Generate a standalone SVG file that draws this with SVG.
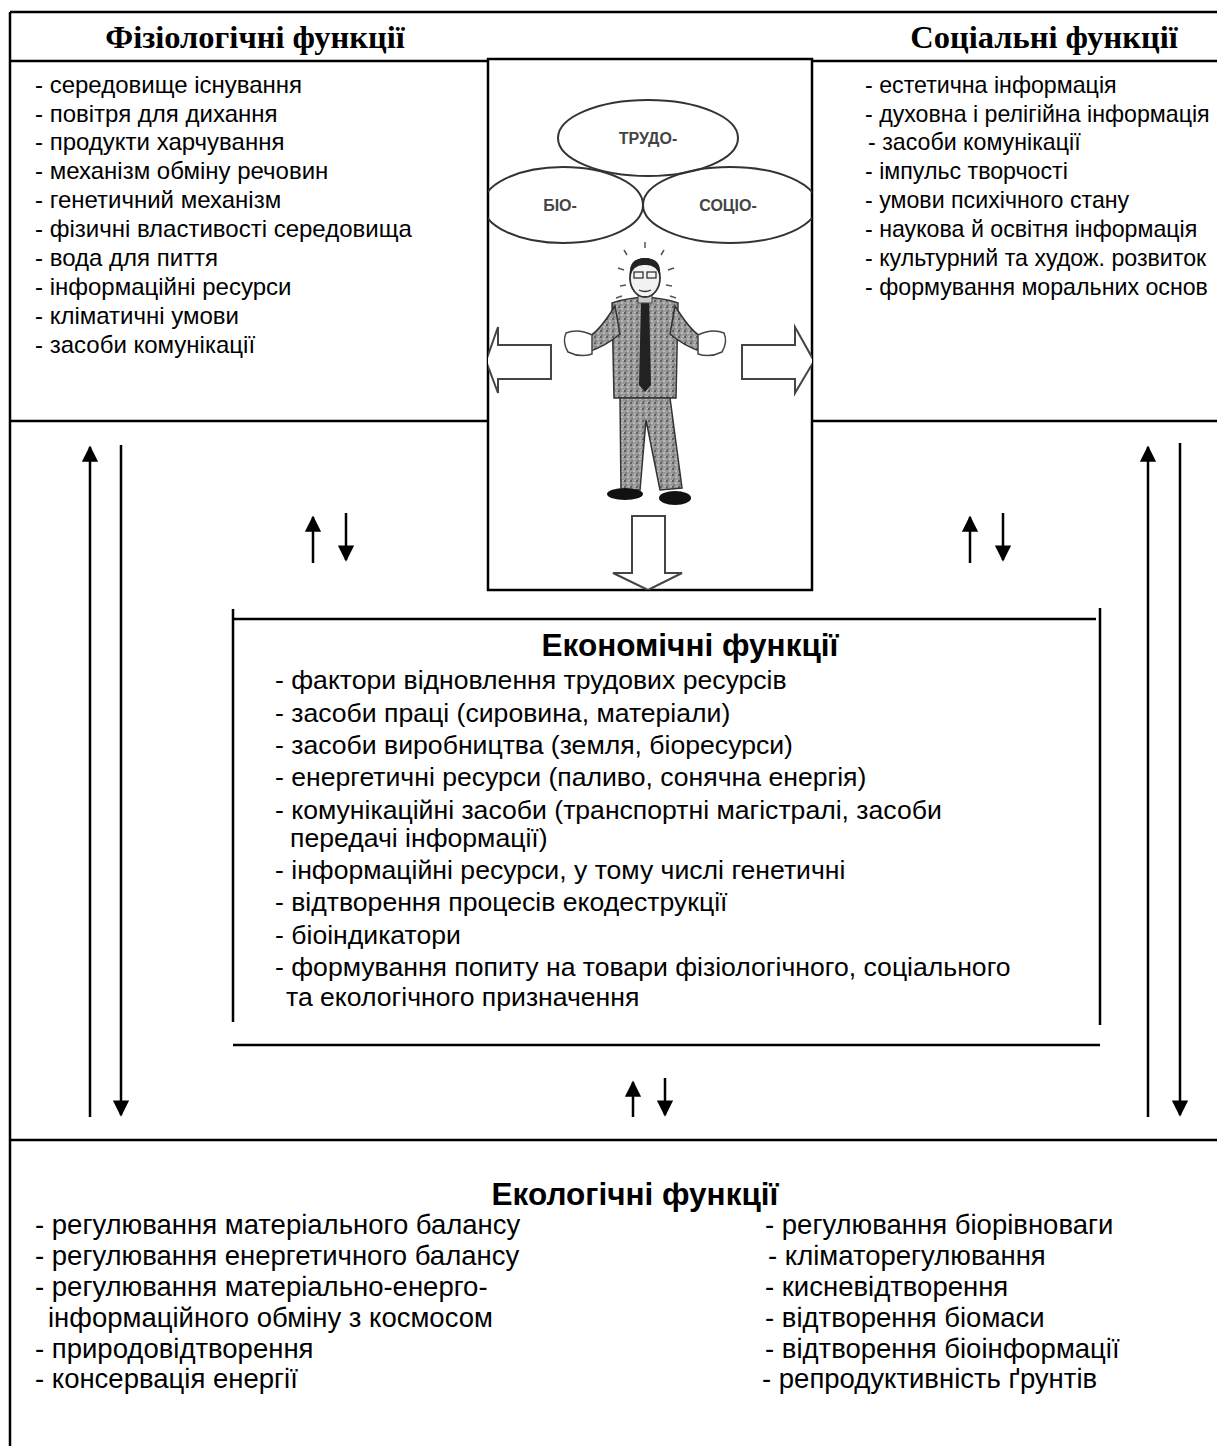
<svg xmlns="http://www.w3.org/2000/svg" width="1217" height="1446" viewBox="0 0 1217 1446">
<style>
.ln{stroke:#000;stroke-width:2.5;fill:none}
.hd{font-family:"Liberation Serif","Times New Roman",serif;font-weight:bold;font-size:32.5px;fill:#000}
.t1{font-family:"Liberation Sans",Arial,sans-serif;font-size:24px;fill:#000}
.t1s{font-family:"Liberation Sans",Arial,sans-serif;font-size:23.2px;fill:#000}
.t2{font-family:"Liberation Sans",Arial,sans-serif;font-size:26.6px;fill:#000}
.t3{font-family:"Liberation Sans",Arial,sans-serif;font-size:27.5px;fill:#000}
.tt{font-family:"Liberation Sans",Arial,sans-serif;font-size:31.5px;font-weight:bold;fill:#000}
.ar{stroke:#000;stroke-width:2.5;fill:none}
.pic{stroke:#333;stroke-width:2;fill:none}
.lab{font-family:"Liberation Sans",Arial,sans-serif;font-size:16px;font-weight:bold;fill:#444}
</style>
<defs>
<marker id="ah" viewBox="0 0 10 10" refX="9" refY="5" markerWidth="6.5" markerHeight="6.5" markerUnits="strokeWidth" orient="auto">
<path d="M0,0 L10,5 L0,10 z" fill="#000"/>
</marker>
<pattern id="suit" width="6" height="6" patternUnits="userSpaceOnUse">
<rect width="6" height="6" fill="#9a9a9a"/>
<circle cx="1" cy="1" r="0.9" fill="#444"/>
<circle cx="4" cy="3" r="0.8" fill="#e0e0e0"/>
<circle cx="2" cy="5" r="0.7" fill="#555"/>
<circle cx="5" cy="0.5" r="0.6" fill="#ddd"/>
</pattern>
<clipPath id="picclip"><rect x="488" y="59" width="324" height="531"/></clipPath>
</defs>
<rect width="1217" height="1446" fill="#fff"/>

<g id="frame">
<path class="ln" d="M10,12 H1217 M10,12 V1446 M10,61 H488 M812,61 H1217 M10,421 H488 M812,421 H1217 M10,1140 H1217"/>
</g>

<g id="physiological">
<text class="hd" x="255" y="48" text-anchor="middle">Фізіологічні функції</text>
<text class="t1" x="35" y="93">- середовище існування</text>
<text class="t1" x="35" y="122">- повітря для дихання</text>
<text class="t1" x="35" y="150">- продукти харчування</text>
<text class="t1" x="35" y="179">- механізм обміну речовин</text>
<text class="t1" x="35" y="208">- генетичний механізм</text>
<text class="t1" x="35" y="237">- фізичні властивості середовища</text>
<text class="t1" x="35" y="266">- вода для пиття</text>
<text class="t1" x="35" y="295">- інформаційні ресурси</text>
<text class="t1" x="35" y="324">- кліматичні умови</text>
<text class="t1" x="35" y="353">- засоби комунікації</text>
</g>

<g id="social">
<text class="hd" x="1044" y="48" text-anchor="middle">Соціальні функції</text>
<text class="t1s" x="865" y="93">- естетична інформація</text>
<text class="t1s" x="865" y="122">- духовна і релігійна інформація</text>
<text class="t1s" x="868" y="150">- засоби комунікації</text>
<text class="t1s" x="865" y="179">- імпульс творчості</text>
<text class="t1s" x="865" y="208">- умови психічного стану</text>
<text class="t1s" x="865" y="237">- наукова й освітня інформація</text>
<text class="t1s" x="865" y="266">- культурний та худож. розвиток</text>
<text class="t1s" x="865" y="295">- формування моральних основ</text>
</g>

<g id="picture">
<rect x="488" y="59" width="324" height="531" fill="#fff" stroke="#000" stroke-width="2.5"/>
<g clip-path="url(#picclip)">
<ellipse cx="648" cy="138" rx="90" ry="38" class="pic"/>
<ellipse cx="563" cy="205" rx="80" ry="38" class="pic"/>
<ellipse cx="730" cy="205" rx="87" ry="38" class="pic"/>
<text class="lab" x="648" y="144" text-anchor="middle">ТРУДО-</text>
<text class="lab" x="560" y="211" text-anchor="middle">БІО-</text>
<text class="lab" x="728" y="211" text-anchor="middle">СОЦІО-</text>
<g stroke="#555" stroke-width="1.5">
<path d="M624,250 L627,255 M645,242 V248 M664,250 L661,255 M618,268 L624,270 M668,270 L674,268 M620,286 L626,285 M666,285 L672,286 M616,298 L622,296 M670,296 L676,298"/>
</g>
<path d="M612,303 Q645,292 678,303 L676,398 L614,398 Z" fill="url(#suit)" stroke="#333" stroke-width="1.5"/>
<path d="M615,306 Q600,330 590,336 L588,352 Q606,346 620,334 Z" fill="url(#suit)" stroke="#333" stroke-width="1.5"/>
<path d="M675,306 Q690,330 700,336 L702,352 Q684,346 670,334 Z" fill="url(#suit)" stroke="#333" stroke-width="1.5"/>
<path d="M566,333 Q578,328 592,335 L592,354 Q580,358 568,352 Q562,342 566,333 Z" fill="#fff" stroke="#444" stroke-width="1.5"/>
<path d="M698,335 Q712,328 724,333 Q728,342 722,352 Q710,358 698,354 Z" fill="#fff" stroke="#444" stroke-width="1.5"/>
<path d="M641,300 L649,300 L651,385 L645,392 L639,385 Z" fill="#222"/>
<path d="M620,398 L670,398 L682,488 L660,490 L646,420 L640,490 L621,490 Z" fill="url(#suit)" stroke="#333" stroke-width="1.5"/>
<ellipse cx="625" cy="494" rx="18" ry="6" fill="#111"/>
<ellipse cx="675" cy="498" rx="16" ry="7" fill="#111"/>
<rect x="638" y="293" width="14" height="10" fill="#ccc" stroke="#444"/>
<ellipse cx="645" cy="278" rx="15" ry="19" fill="#f2f2f2" stroke="#333" stroke-width="1.8"/>
<path d="M630,276 Q628,258 645,258 Q662,258 660,276 Q656,264 645,265 Q634,264 630,276 Z" fill="#222"/>
<rect x="634" y="272" width="9" height="6" fill="none" stroke="#333" stroke-width="1.3"/>
<rect x="647" y="272" width="9" height="6" fill="none" stroke="#333" stroke-width="1.3"/>
<path d="M639,290 Q645,293 651,290" stroke="#333" stroke-width="1.3" fill="none"/>
<path d="M551,345 L551,379 L498,379 L498,393 L486,361 L498,327 L498,345 Z" fill="#fff" stroke="#444" stroke-width="2"/>
<path d="M742,345 L742,379 L795,379 L795,393 L814,361 L795,327 L795,345 Z" fill="#fff" stroke="#444" stroke-width="2"/>
<path d="M632,516 L665,516 L665,573 L682,573 L648,590 L613,573 L632,573 Z" fill="#fff" stroke="#444" stroke-width="2"/>
</g>
</g>

<g id="economic">
<path class="ln" d="M233,619 H1096 M233,609 V1022 M1100,608 V1025 M233,1045 H1100"/>
<text class="tt" x="690" y="656" text-anchor="middle">Економічні функції</text>
<text class="t2" x="275" y="689">- фактори відновлення трудових ресурсів</text>
<text class="t2" x="275" y="722">- засоби праці (сировина, матеріали)</text>
<text class="t2" x="275" y="754">- засоби виробництва (земля, біоресурси)</text>
<text class="t2" x="275" y="786">- енергетичні ресурси (паливо, сонячна енергія)</text>
<text class="t2" x="275" y="819">- комунікаційні засоби (транспортні магістралі, засоби</text>
<text class="t2" x="290" y="847">передачі інформації)</text>
<text class="t2" x="275" y="879">- інформаційні ресурси, у тому числі генетичні</text>
<text class="t2" x="275" y="911">- відтворення процесів екодеструкції</text>
<text class="t2" x="275" y="944">- біоіндикатори</text>
<text class="t2" x="275" y="976">- формування попиту на товари фізіологічного, соціального</text>
<text class="t2" x="286" y="1006">та екологічного призначення</text>
</g>

<g id="ecological">
<text class="tt" x="635" y="1205" text-anchor="middle">Екологічні функції</text>
<text class="t3" x="35" y="1234">- регулювання матеріального балансу</text>
<text class="t3" x="35" y="1265">- регулювання енергетичного балансу</text>
<text class="t3" x="35" y="1296">- регулювання матеріально-енерго-</text>
<text class="t3" x="48" y="1327">інформаційного обміну з космосом</text>
<text class="t3" x="35" y="1358">- природовідтворення</text>
<text class="t3" x="35" y="1388">- консервація енергії</text>
<text class="t3" x="765" y="1234">- регулювання біорівноваги</text>
<text class="t3" x="768" y="1265">- кліматорегулювання</text>
<text class="t3" x="765" y="1296">- кисневідтворення</text>
<text class="t3" x="765" y="1327">- відтворення біомаси</text>
<text class="t3" x="765" y="1358">- відтворення біоінформації</text>
<text class="t3" x="762" y="1388">- репродуктивність ґрунтів</text>
</g>

<g id="connectors">
<path class="ar" d="M90,1117 V447" marker-end="url(#ah)"/>
<path class="ar" d="M121,445 V1115" marker-end="url(#ah)"/>
<path class="ar" d="M1148,1117 V447" marker-end="url(#ah)"/>
<path class="ar" d="M1180,443 V1115" marker-end="url(#ah)"/>
<path class="ar" d="M313,563 V517" marker-end="url(#ah)"/>
<path class="ar" d="M346,513 V560" marker-end="url(#ah)"/>
<path class="ar" d="M970,563 V517" marker-end="url(#ah)"/>
<path class="ar" d="M1003,513 V560" marker-end="url(#ah)"/>
<path class="ar" d="M633,1117 V1082" marker-end="url(#ah)"/>
<path class="ar" d="M665,1078 V1115" marker-end="url(#ah)"/>
</g>
</svg>
